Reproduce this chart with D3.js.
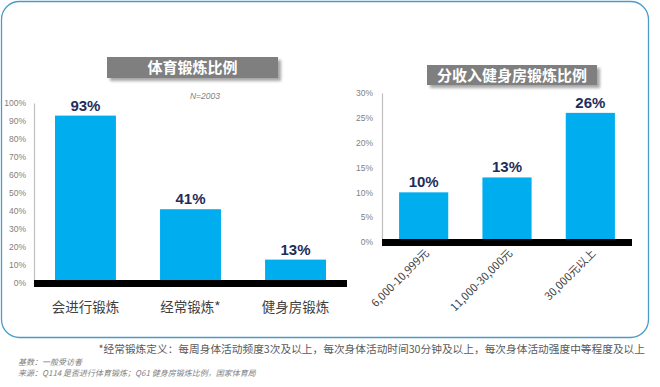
<!DOCTYPE html>
<head>
  <meta charset="utf-8">
  <script src="https://d3js.org/d3.v7.min.js"></script>
  <style>
    body { margin:0; background:#fff; font-family:"Noto Sans CJK SC", "Liberation Sans", sans-serif; }
  </style>
</head>
<body>
<script>
  // 体育锻炼比例
  var leftCats = ["会进行锻炼", "经常锻炼*", "健身房锻炼"];
  var leftVals = [0.93, 0.41, 0.13];
  var leftTicks = [0, 0.1, 0.2, 0.3, 0.4, 0.5, 0.6, 0.7, 0.8, 0.9, 1.0];

  // 分收入健身房锻炼比例
  var rightCats = ["6,000-10,999元", "11,000-30,000元", "30,000元以上"];
  var rightVals = [0.10, 0.13, 0.26];
  var rightTicks = [0, 0.05, 0.10, 0.15, 0.20, 0.25, 0.30];

  var width = 660, height = 387;
  var blue = "#00aeef", navy = "#1f2d5a";
  var fmt = d3.format(".0%");

  var svg = d3.select("body").append("svg")
    .attr("width", width).attr("height", height);

  var defs = svg.append("defs");
  var f = defs.append("filter").attr("id", "shadow").attr("x", "-10%").attr("y", "-20%").attr("width", "130%").attr("height", "160%");
  f.append("feGaussianBlur").attr("in", "SourceAlpha").attr("stdDeviation", 1.5);
  f.append("feOffset").attr("dx", 3).attr("dy", 3).attr("result", "b");
  f.append("feComponentTransfer").append("feFuncA").attr("type", "linear").attr("slope", 0.35);
  var m = f.append("feMerge");
  m.append("feMergeNode");
  m.append("feMergeNode").attr("in", "SourceGraphic");

  // frame
  svg.append("rect")
    .attr("x", 1.5).attr("y", 1.5).attr("width", 647).attr("height", 336)
    .attr("rx", 18).attr("ry", 18)
    .attr("fill", "none").attr("stroke", "#4a9cc8").attr("stroke-width", 1.3);

  function titleBox(x, y, w, h, txt) {
    svg.append("rect").attr("x", x).attr("y", y).attr("width", w).attr("height", h)
      .attr("fill", "#7f7f7f").attr("filter", "url(#shadow)");
    svg.append("text").attr("x", x + w / 2).attr("y", y + h / 2 + 5.5)
      .attr("text-anchor", "middle").attr("fill", "#fff")
      .attr("font-size", 15).attr("font-weight", "bold").text(txt);
  }

  function chart(cats, vals, ticks, opt) {
    var x = d3.scaleBand().domain(cats).range([opt.x0, opt.x1]).paddingInner(opt.pad).paddingOuter(opt.outer);
    var y = d3.scaleLinear().domain([0, ticks[ticks.length - 1]]).range([opt.y0, opt.y1]);
    var g = svg.append("g");

    var ax = g.append("g").attr("transform", "translate(" + opt.x0 + ",0)")
      .call(d3.axisLeft(y).tickValues(ticks).tickFormat(fmt).tickSize(0).tickPadding(opt.tp));
    ax.select(".domain").attr("stroke", "#bfbfbf").attr("stroke-width", 1.2);
    ax.selectAll("text").attr("fill", "#7f7f7f").attr("font-size", 8.5)
      .attr("font-family", "Liberation Sans, sans-serif");

    g.selectAll(".bar").data(vals).enter().append("rect")
      .attr("x", function(d, i) { return x(cats[i]); })
      .attr("width", x.bandwidth())
      .attr("y", function(d) { return y(d); })
      .attr("height", function(d) { return y(0) - y(d); })
      .attr("fill", blue);

    g.selectAll(".val").data(vals).enter().append("text")
      .attr("x", function(d, i) { return x(cats[i]) + x.bandwidth() / 2; })
      .attr("y", function(d) { return y(d) - 5; })
      .attr("text-anchor", "middle").attr("fill", navy)
      .attr("font-size", 15).attr("font-weight", "bold")
      .attr("font-family", "Liberation Sans, sans-serif")
      .text(function(d) { return fmt(d); });

    // thick base line
    g.append("rect").attr("x", opt.x0).attr("y", y(0) - 3).attr("width", opt.x1 - opt.x0).attr("height", 7)
      .attr("fill", "#000");
    return {x: x, y: y, g: g};
  }

  var L = chart(leftCats, leftVals, leftTicks, {x0: 34, x1: 347, y0: 283, y1: 103, pad: 0.42, outer: 0.2, tp: 8});
  L.g.selectAll(".cat").data(leftCats).enter().append("text")
    .attr("x", function(d) { return L.x(d) + L.x.bandwidth() / 2; })
    .attr("y", 312).attr("text-anchor", "middle").attr("fill", "#404040")
    .attr("font-size", 13.5).text(function(d) { return d; });

  var R = chart(rightCats, rightVals, rightTicks, {x0: 382, x1: 632, y0: 242, y1: 93, pad: 0.41, outer: 0.205, tp: 9});
  R.g.selectAll(".cat").data(rightCats).enter().append("text")
    .attr("transform", function(d) {
      return "translate(" + (R.x(d) + R.x.bandwidth() / 2 + 6) + ",254) rotate(-45)";
    })
    .attr("text-anchor", "end").attr("fill", "#404040")
    .attr("font-size", 11).text(function(d) { return d; });

  titleBox(107, 57, 171, 21, "体育锻炼比例");
  titleBox(427, 65, 170, 20, "分收入健身房锻炼比例");

  svg.append("text").attr("x", 205).attr("y", 99).attr("text-anchor", "middle")
    .attr("fill", "#7f7f7f").attr("font-size", 8.5).attr("font-style", "italic")
    .attr("font-family", "Liberation Sans, sans-serif").text("N=2003");

  svg.append("text").attr("x", 645).attr("y", 353).attr("text-anchor", "end")
    .attr("fill", "#595959").attr("font-size", 10.7)
    .text("*经常锻炼定义：每周身体活动频度3次及以上，每次身体活动时间30分钟及以上，每次身体活动强度中等程度及以上");

  svg.append("text").attr("x", 18).attr("y", 365).attr("fill", "#7f7f7f")
    .attr("font-size", 8).attr("font-style", "italic").text("基数：一般受访者");
  svg.append("text").attr("x", 18).attr("y", 376).attr("fill", "#7f7f7f")
    .attr("font-size", 8).attr("font-style", "italic").text("来源：Q114 是否进行体育锻炼；Q61 健身房锻炼比例，国家体育局");
</script>
</body>
